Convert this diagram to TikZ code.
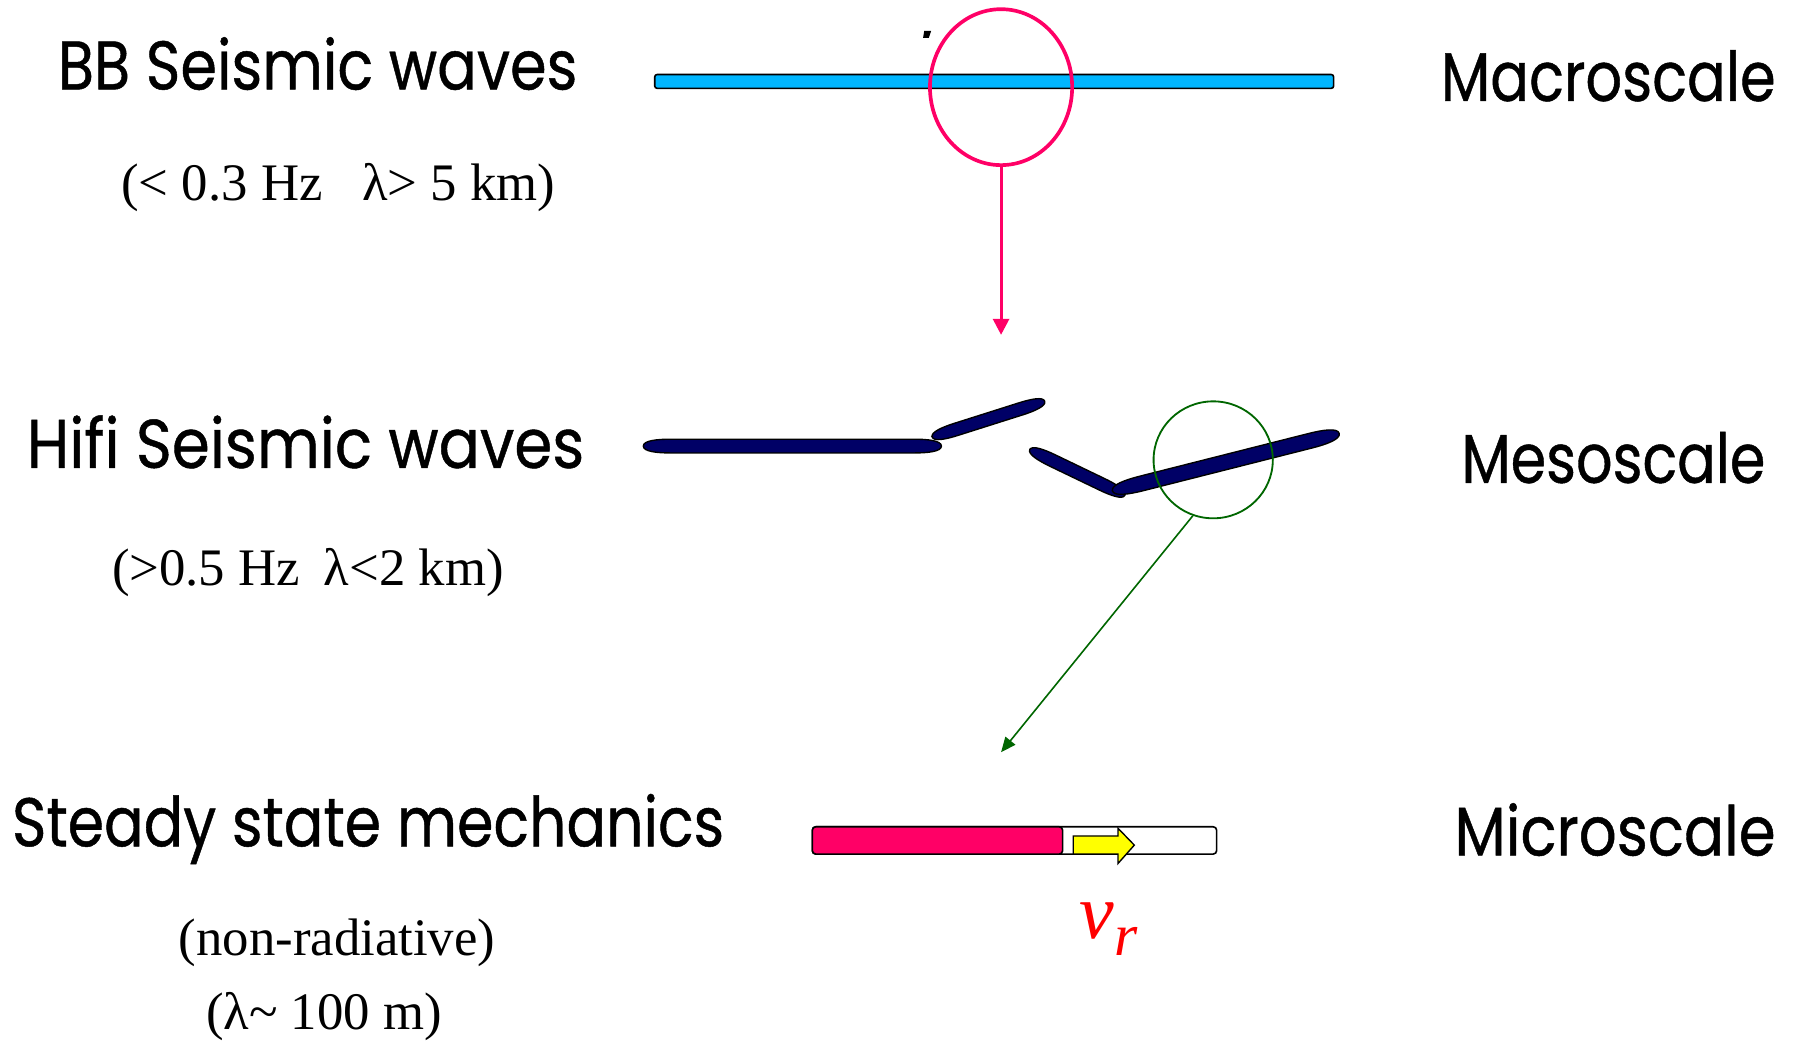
\documentclass[tikz,border=0pt]{standalone}
\usepackage{fontspec}
\usepackage{graphicx}
\setmainfont{Liberation Serif}
\newfontfamily\comicf{Poppins}[FakeBold=0.7]
\usetikzlibrary{arrows.meta,shapes.geometric}
\definecolor{pinkc}{RGB}{255,0,102}
\definecolor{bluec}{RGB}{0,182,255}
\definecolor{navyc}{RGB}{0,0,102}
\definecolor{greenc}{RGB}{0,102,0}
\definecolor{yellowc}{RGB}{255,255,0}
\newcommand\cstext[2]{\resizebox{#1pt}{\height}{\comicf\fontsize{30}{36}\selectfont #2}}
% fault lens: centre x, centre y, angle, length, half thickness
\newcommand\faultlens[5]{%
  \begin{scope}[shift={(#1,#2)},rotate=#3]
  \path[fault] ({-#4/2},0) .. controls ({-#4/2},{0.8*#5}) and ({-#4/2+2*#5},#5) .. ({-#4/2+4*#5},#5)
    -- ({#4/2-4*#5},#5) .. controls ({#4/2-2*#5},#5) and ({#4/2},{0.8*#5}) .. ({#4/2},0)
    .. controls ({#4/2},{-0.8*#5}) and ({#4/2-2*#5},-#5) .. ({#4/2-4*#5},-#5)
    -- ({-#4/2+4*#5},-#5) .. controls ({-#4/2+2*#5},-#5) and ({-#4/2},{-0.8*#5}) .. cycle;
  \end{scope}}
\tikzset{
  cslabel/.style={anchor=base west,inner sep=0pt,outer sep=0pt},
  tmlabel/.style={anchor=base,inner sep=0pt,outer sep=0pt,font=\fontsize{23}{27}\selectfont},
  fault/.style={fill=navyc,draw=black,line width=0.6pt},
}
\begin{document}
\begin{tikzpicture}[x=0.5pt,y=-0.5pt]
\useasboundingbox (0,0) rectangle (1568,907);
% left labels
\node[cslabel] (bb) at (50.5,78) {\cstext{226.5}{BB Seismic waves}};
\node[tmlabel] (bbf) at (295,175) {(< 0.3 Hz\hspace{0.75em}λ> 5 km)};
\node[cslabel] (hifi) at (23.5,408) {\cstext{243}{Hifi Seismic waves}};
\node[tmlabel] (hifif) at (268.5,511) {(>0.5 Hz\hspace{0.45em}λ<2 km)};
\node[cslabel] (steady) at (10.5,738) {\cstext{310.5}{Steady state mechanics}};
\node[tmlabel] (nonrad) at (294,833) {(non-radiative)};
\node[tmlabel] (lam) at (282.5,898) {(λ\textasciitilde{} 100 m)};
% right labels
\node[cslabel] (macro) at (1256.5,88) {\cstext{146}{Macroscale}};
\node[cslabel] (meso) at (1274.5,421) {\cstext{132.5}{Mesoscale}};
\node[cslabel] (micro) at (1268.5,746) {\cstext{140}{Microscale}};
% macroscale fault
\draw[fill=bluec,draw=black,line width=0.7pt,rounded corners=1pt] (571,65) rectangle (1163,77);
\fill[black] (806,27) -- (812,27) -- (810,33) -- (805,33) -- cycle;
\node[ellipse,draw=pinkc,line width=1.6pt,minimum width=62pt,minimum height=68pt,inner sep=0pt] (pe) at (873,76) {};
\coordinate (pend) at (873,292);
\draw[pinkc,line width=1.3pt,-{Triangle[width=7pt,length=7pt]}] (pe.south) -- (pend);
% mesoscale faults
\faultlens{691}{389}{0}{260}{6}
\faultlens{862}{365.5}{17.6}{103}{5.5}
\faultlens{939.5}{412}{-25.7}{92}{5.5}
\faultlens{1069}{403}{14.2}{204}{6.5}
\node[ellipse,draw=greenc,line width=0.8pt,minimum width=52pt,minimum height=51pt,inner sep=0pt] (ge) at (1058,401) {};
\coordinate (gend) at (873,656);
\draw[greenc,line width=0.7pt,-{Triangle[width=5.5pt,length=6.5pt]}] (ge.250) -- (gend);
% microscale
\draw[fill=white,draw=black,line width=0.7pt,rounded corners=1.5pt] (708.4,721) rectangle (1061,744.8);
\draw[fill=pinkc,draw=black,line width=0.7pt,rounded corners=1.5pt] (708.4,721) rectangle (926.7,744.8);
\draw[fill=yellowc,draw=black,line width=0.6pt] (936,729) -- (975,729) -- (975,722.3) -- (989.2,737) -- (975,753) -- (975,744.8) -- (936,744.8) -- cycle;
\node[anchor=base west,inner sep=0pt,text=red] (vr) at (941,818) {\fontsize{34}{40}\selectfont\itshape v\raisebox{-7.5pt}{\fontsize{26}{30}\selectfont r}};
\end{tikzpicture}
\end{document}
